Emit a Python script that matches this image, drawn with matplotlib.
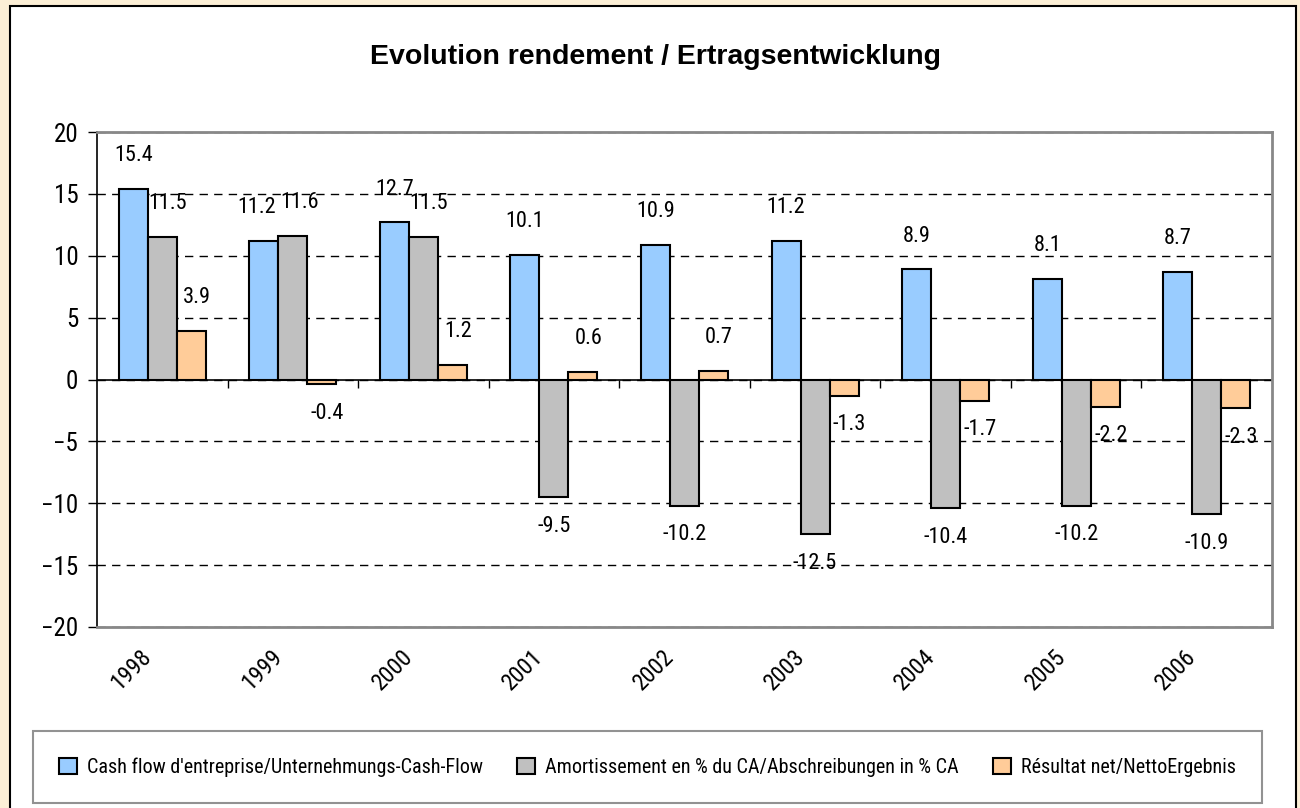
import numpy as np
import matplotlib
matplotlib.use('Agg')
import matplotlib.pyplot as plt
from matplotlib import font_manager
from matplotlib.patches import Rectangle
from matplotlib.transforms import ScaledTranslation

years    = ['1998', '1999', '2000', '2001', '2002', '2003', '2004', '2005', '2006']
cashflow = [15.4, 11.2, 12.7, 10.1, 10.9, 11.2, 8.9, 8.1, 8.7]
amort    = [11.5, 11.6, 11.5, -9.5, -10.2, -12.5, -10.4, -10.2, -10.9]
resultat = [3.9, -0.4, 1.2, 0.6, 0.7, -1.3, -1.7, -2.2, -2.3]
labels   = ["Cash flow d'entreprise/Unternehmungs-Cash-Flow",
            "Amortissement en % du CA/Abschreibungen in % CA",
            "Résultat net/NettoErgebnis"]
colors   = ['#99CCFF', '#C0C0C0', '#FFCC99']

# condensed font for the chart texts, whichever is installed
have = {f.name for f in font_manager.fontManager.ttflist}
narrow = 'DejaVu Sans'
for name in ['Roboto Condensed', 'Liberation Sans Narrow', 'Open Sans Condensed']:
    if name in have:
        narrow = name
        break

fig = plt.figure(figsize=(13, 8.08), dpi=100)
fig.patch.set_facecolor('#FCEFD6')
fig.patches.append(Rectangle((10/1300, -0.02), 1286/1300, 1 - 6/808 + 0.02,
                             transform=fig.transFigure, facecolor='white',
                             edgecolor='black', linewidth=1.5, zorder=-5))

ax = fig.add_axes([97/1300, 1 - 627/808, 1175/1300, 495/808])
ax.set_zorder(2)
ax.set_facecolor('white')

x = np.arange(len(years))
w = 1 / 4.5
series = [cashflow, amort, resultat]
for k, (vals, col, lab) in enumerate(zip(series, colors, labels)):
    bars = ax.bar(x + (k - 1) * w, vals, w, color=col, edgecolor='black',
                  linewidth=1.5, label=lab, zorder=3)
    for i, (b, v) in enumerate(zip(bars, vals)):
        xc = b.get_x() + b.get_width() / 2
        dy = 24 if v >= 0 else -21
        dx = 0
        if k == 2:
            dx = 4
        # nudge neighbouring labels apart when blue and grey are about the same height
        if v > 0 and abs(cashflow[i] - amort[i]) < 1:
            dx = -5 if k == 0 else 5
        elif k == 1 and v > 0:
            dx = 4
        ax.annotate(f'{v:.1f}', (xc, v), xytext=(dx, dy), textcoords='offset points',
                    ha='center', va='center', fontsize=16, family=narrow, zorder=4)

ax.set_xlim(-0.5, len(years) - 0.5)
ax.set_ylim(-20, 20)
ax.set_yticks(np.arange(-20, 21, 5))
ax.yaxis.grid(True, color='black', linestyle=(0, (6, 4.5)), linewidth=1, zorder=1)
ax.axhline(0, color='black', linewidth=1.2, zorder=2)
# category separator ticks on the zero line
ax.vlines(x[1:] - 0.5, 0, -0.65, color='black', linewidth=1, zorder=2)

ax.set_xticks(x)
ax.set_xticklabels(years, rotation=45, ha='right', va='top', fontsize=17, family=narrow)
ax.tick_params(axis='x', length=0)
ax.tick_params(axis='y', direction='out', length=6.5, width=1, pad=7, labelsize=18)
for t in ax.get_yticklabels():
    t.set_family(narrow)
# shift the year labels (after tick_params, which resets their transforms)
offset = ScaledTranslation(-6/100, -13/100, fig.dpi_scale_trans)
for t in ax.get_xticklabels():
    t.set_transform(t.get_transform() + offset)

for s in ['top', 'right', 'bottom']:
    ax.spines[s].set_color('#888888')
    ax.spines[s].set_linewidth(2)
ax.spines['left'].set_color('black')
ax.spines['left'].set_linewidth(1.2)

fig.text(655/1300, 1 - 57/808, 'Evolution rendement / Ertragsentwicklung',
         ha='center', va='center', fontsize=20.5, fontweight='bold', family='Liberation Sans')

leg = fig.legend(loc='lower left', bbox_to_anchor=(33/1300, 5/808, 1229/1300, 84/808),
                 mode='expand', ncol=3, prop={'family': narrow, 'size': 14.5},
                 frameon=True, fancybox=False, edgecolor='#777777', borderpad=1.3,
                 handlelength=0.9, handleheight=0.9, handletextpad=0.5, borderaxespad=0)
leg.get_frame().set_linewidth(1.5)

plt.savefig('out.png', dpi=100, facecolor=fig.get_facecolor())
